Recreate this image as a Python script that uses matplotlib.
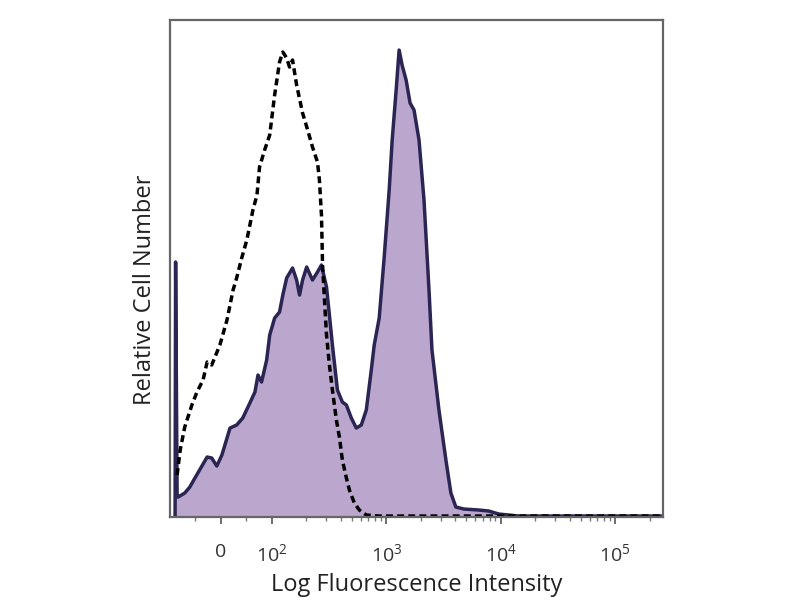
import matplotlib
matplotlib.use("Agg")
import matplotlib.pyplot as plt

plt.rcParams['font.family'] = ['Open Sans', 'DejaVu Sans']
plt.rcParams['mathtext.fontset'] = 'custom'
plt.rcParams['mathtext.rm'] = 'Open Sans'
plt.rcParams['mathtext.it'] = 'Open Sans:italic'

# fluorescence values (x) and relative cell counts (y)
stained_x = [-90, -89, -86, -84, -71, -61, -51, -27, -18, -8, 2, 18, 31, 43, 57, 67, 73, 80,
             90, 96, 106, 117, 125, 135, 152, 165, 175, 186, 202, 227, 251, 272, 301, 319,
             339, 375, 414, 449, 496, 548, 606, 670, 741, 786, 869, 961, 1062, 1128, 1222,
             1297, 1377, 1493, 1617, 1751, 1936, 2140, 2366, 2512, 2890, 3325, 3675, 4060,
             4768, 6434, 7865, 9612, 14350, 251189]
stained_y = [0, 255, 20, 20, 24, 30, 39, 60, 59, 51, 62, 89, 92, 99, 114, 125, 142, 135,
             157, 182, 199, 205, 222, 239, 249, 237, 222, 237, 250, 237, 245, 252, 230, 202,
             172, 127, 115, 112, 99, 89, 92, 107, 147, 172, 199, 260, 327, 377, 427,
             467, 452, 437, 414, 407, 377, 317, 227, 167, 107, 57, 24, 10,
             8, 7, 6, 3, 1, 1]

control_x = [-86, -80, -71, -57, -47, -35, -27, -18, -2, 12, 24, 31, 41, 51, 63, 71, 76,
             86, 96, 106, 117, 125, 135, 143, 152, 165, 186, 206, 227, 251, 261, 272, 278,
             289, 301, 319, 339, 367, 390, 414, 449, 477, 527, 582, 670, 869, 251189]
control_y = [42, 67, 90, 112, 125, 137, 155, 152, 172, 197, 227, 239, 259, 277, 307, 322, 350,
             367, 382, 422, 455, 465, 459, 450, 457, 432, 404, 387, 370, 355, 337, 302, 252,
             217, 182, 152, 127, 97, 80, 57, 39, 27, 14, 7, 2, 1, 1]

tick_vals = [0, 100, 1000, 10000, 100000]
tick_labels = ['0', r'$\mathregular{10^2}$', r'$\mathregular{10^3}$',
               r'$\mathregular{10^4}$', r'$\mathregular{10^5}$']

fig = plt.figure(figsize=(8, 6), dpi=100)
ax = fig.add_axes([0.2125, 0.1383, 0.61625, 0.8283])
ax.set_xscale('symlog', linthresh=100, linscale=0.4)

ax.fill_between(stained_x, stained_y, color='#bba7cd', lw=0)
ax.plot(stained_x, stained_y, color='#2a2552', lw=2.5)
ax.plot(control_x, control_y, color='black', lw=2.5, ls=(0, (2.0, 1.2)))

ax.set_xlim(-100, 262144)
ax.set_ylim(0, 497)
ax.set_yticks([])
ax.set_xticks(tick_vals)
ax.set_xticklabels(tick_labels)
minor = [-50, 50]
for k in [2, 3, 4, 5]:
    minor += [m * 10 ** k for m in range(2, 10)]
ax.set_xticks([m for m in minor if m < 262144], minor=True)
ax.tick_params(axis='x', which='major', direction='out', length=5, width=1.2,
               color='#555555', labelsize=14, labelcolor='#333333', pad=14)
ax.tick_params(axis='x', which='minor', direction='out', length=3, width=1,
               color='#777777')
for s in ax.spines.values():
    s.set_color('#666666')
    s.set_linewidth(1.6)

ax.set_xlabel('Log Fluorescence Intensity', fontsize=17, color='#222222', va='center')
ax.set_ylabel('Relative Cell Number', fontsize=17, color='#222222', va='center')
ax.xaxis.set_label_coords(0.5, -0.137)
ax.yaxis.set_label_coords(-0.051, 0.457)

fig.savefig('out.png', dpi=100)
